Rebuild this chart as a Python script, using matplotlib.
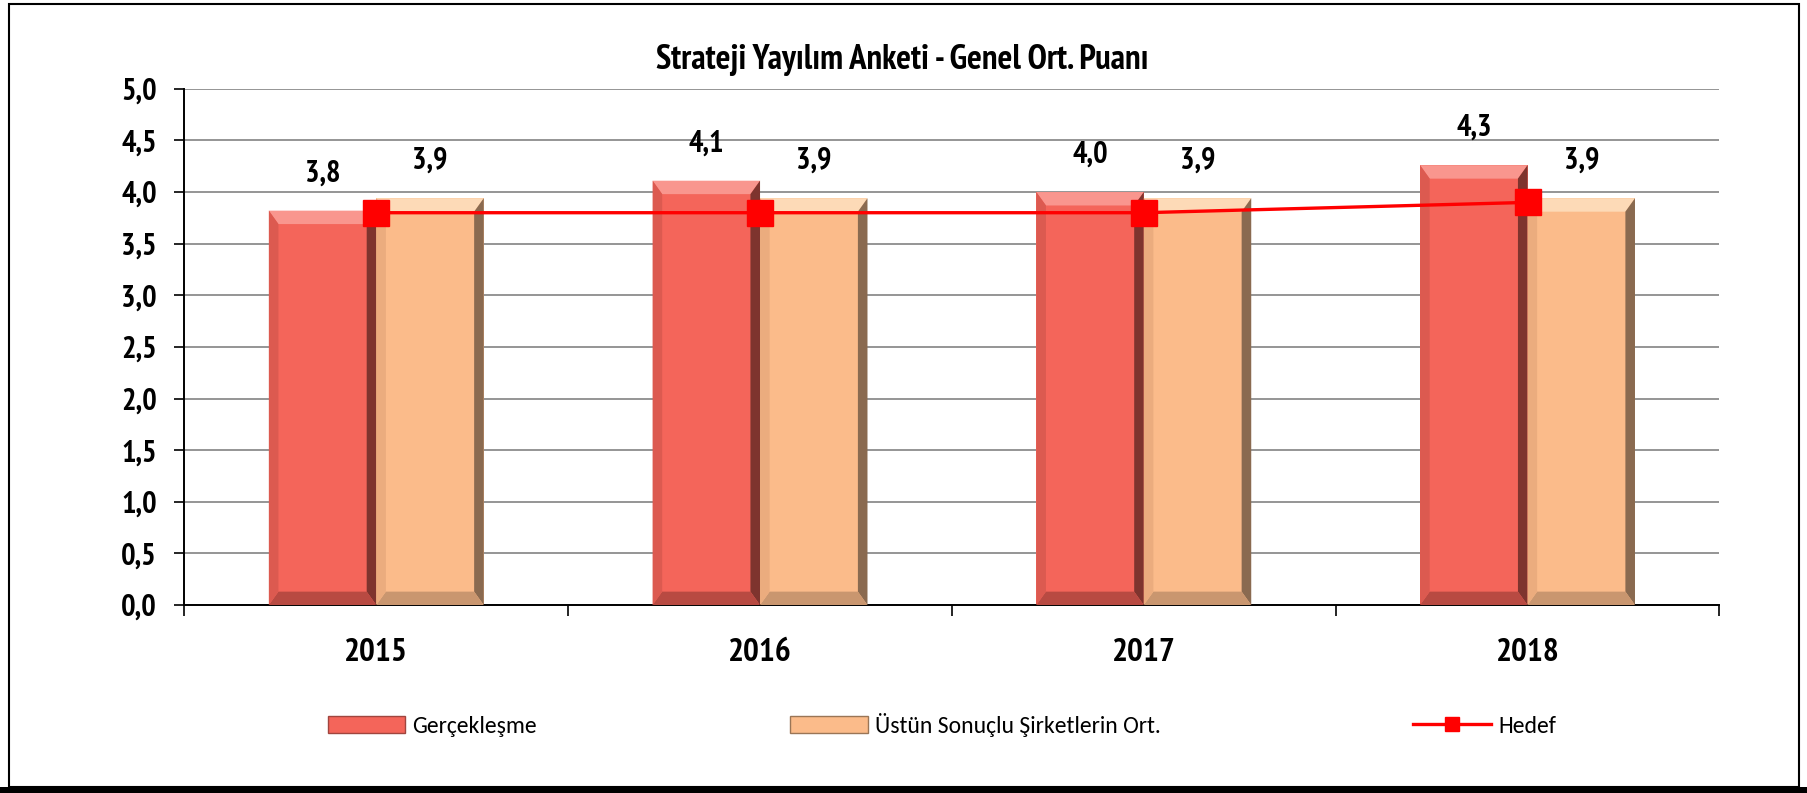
import numpy as np
import matplotlib
matplotlib.use("Agg")
import matplotlib.pyplot as plt
from matplotlib.patches import Polygon, Rectangle
from matplotlib.lines import Line2D
from matplotlib.ticker import FuncFormatter, MultipleLocator

# narrow bold font like Arial Narrow, Calibri-like for the legend
plt.rcParams['font.family'] = ['PT Sans Narrow', 'DejaVu Sans']
plt.rcParams['font.stretch'] = 'condensed'
legend_font = ['Carlito', 'DejaVu Sans']

# data
years = ['2015', '2016', '2017', '2018']
gerceklesme = [3.82, 4.11, 4.00, 4.26]
ustun_ort = [3.94, 3.94, 3.94, 3.94]
hedef = [3.8, 3.8, 3.8, 3.9]

red = '#F4655A'
orange = '#FBBB8A'

fig = plt.figure(figsize=(18.08, 7.93), dpi=100)
ax = fig.add_axes([0.102, 0.237, 0.849, 0.651])

x = np.arange(len(years))
w = 0.28
b1 = ax.bar(x - w / 2, gerceklesme, w, color=red, zorder=2)
b2 = ax.bar(x + w / 2, ustun_ort, w, color=orange, zorder=2)

# fake bevel so the bars look a bit like the excel ones
def bevel(bars, light, dark, mid, side):
    bx, by = 0.025, 0.13
    for r in bars:
        x0, x1 = r.get_x(), r.get_x() + r.get_width()
        y1 = r.get_height()
        ax.add_patch(Polygon([(x0, y1), (x1, y1), (x1 - bx, y1 - by), (x0 + bx, y1 - by)],
                             closed=True, color=light, lw=0, zorder=3))
        ax.add_patch(Polygon([(x1, y1), (x1, 0), (x1 - bx, by), (x1 - bx, y1 - by)],
                             closed=True, color=dark, lw=0, zorder=3))
        ax.add_patch(Polygon([(x0, 0), (x1, 0), (x1 - bx, by), (x0 + bx, by)],
                             closed=True, color=mid, lw=0, zorder=3))
        ax.add_patch(Polygon([(x0, 0), (x0, y1), (x0 + bx, y1 - by), (x0 + bx, by)],
                             closed=True, color=side, lw=0, zorder=3))

bevel(b1, '#F9968E', '#7E342E', '#B84A42', '#DC5A50')
bevel(b2, '#FDDAB7', '#8A6A50', '#C9966F', '#EBAC7E')

ax.plot(x, hedef, color='#FF0000', lw=2.4, marker='s', markersize=19, zorder=5)

for bars, vals in [(b1, gerceklesme), (b2, ustun_ort)]:
    for r, v in zip(bars, vals):
        ax.annotate(f'{v:.1f}'.replace('.', ','), (r.get_x() + r.get_width() / 2, v),
                    xytext=(0, 21), textcoords='offset points', ha='center', va='baseline',
                    fontsize=22, fontweight='bold')

ax.set_xlim(-0.5, len(years) - 0.5)
ax.set_ylim(0, 5)
ax.yaxis.set_major_locator(MultipleLocator(0.5))
ax.yaxis.set_major_formatter(FuncFormatter(lambda v, p: f'{v:.1f}'.replace('.', ',')))
ax.set_xticks(x)
ax.set_xticklabels(years)
ax.set_xticks(np.arange(len(years) + 1) - 0.5, minor=True)
ax.tick_params(axis='x', which='major', length=0, pad=24, labelsize=24)
ax.tick_params(axis='x', which='minor', length=8, width=1.2, direction='out')
ax.tick_params(axis='y', length=7, width=1.2, pad=13, labelsize=22)
for lab in ax.get_xticklabels() + ax.get_yticklabels():
    lab.set_fontweight('bold')

ax.grid(axis='y', color='#8C8C8C', lw=1.3, zorder=0)
ax.set_axisbelow(True)
for s in ['top', 'right']:
    ax.spines[s].set_visible(False)
ax.spines['left'].set_linewidth(1.4)
ax.spines['bottom'].set_linewidth(1.4)

fig.text(0.499, 0.924, 'Strateji Yayılım Anketi - Genel Ort. Puanı', ha='center', va='center',
         fontsize=25, fontweight='bold')

handles = [Rectangle((0, 0), 1, 1, facecolor=red, edgecolor='#A0453E', lw=1),
           Rectangle((0, 0), 1, 1, facecolor=orange, edgecolor='#9A7556', lw=1),
           Line2D([], [], color='#FF0000', lw=2.4, marker='s', markersize=10)]
fig.legend(handles, ['Gerçekleşme', 'Üstün Sonuçlu Şirketlerin Ort.', 'Hedef'],
           loc='center', bbox_to_anchor=(0.521, 0.086), ncol=3, frameon=False,
           prop={'family': legend_font, 'size': 17, 'stretch': 'normal'},
           handlelength=3.3, handleheight=0.75, handletextpad=0.3, columnspacing=10.7)

# outer frame with the black shadow at the bottom
fig.patches.append(Rectangle((0.005, 0.008), 0.99, 0.987, transform=fig.transFigure,
                             fill=False, edgecolor='black', lw=1.5))
fig.patches.append(Rectangle((0.0, 0.0), 1.0, 0.008, transform=fig.transFigure,
                             facecolor='black', edgecolor='none'))

fig.savefig('out.png', dpi=100)
